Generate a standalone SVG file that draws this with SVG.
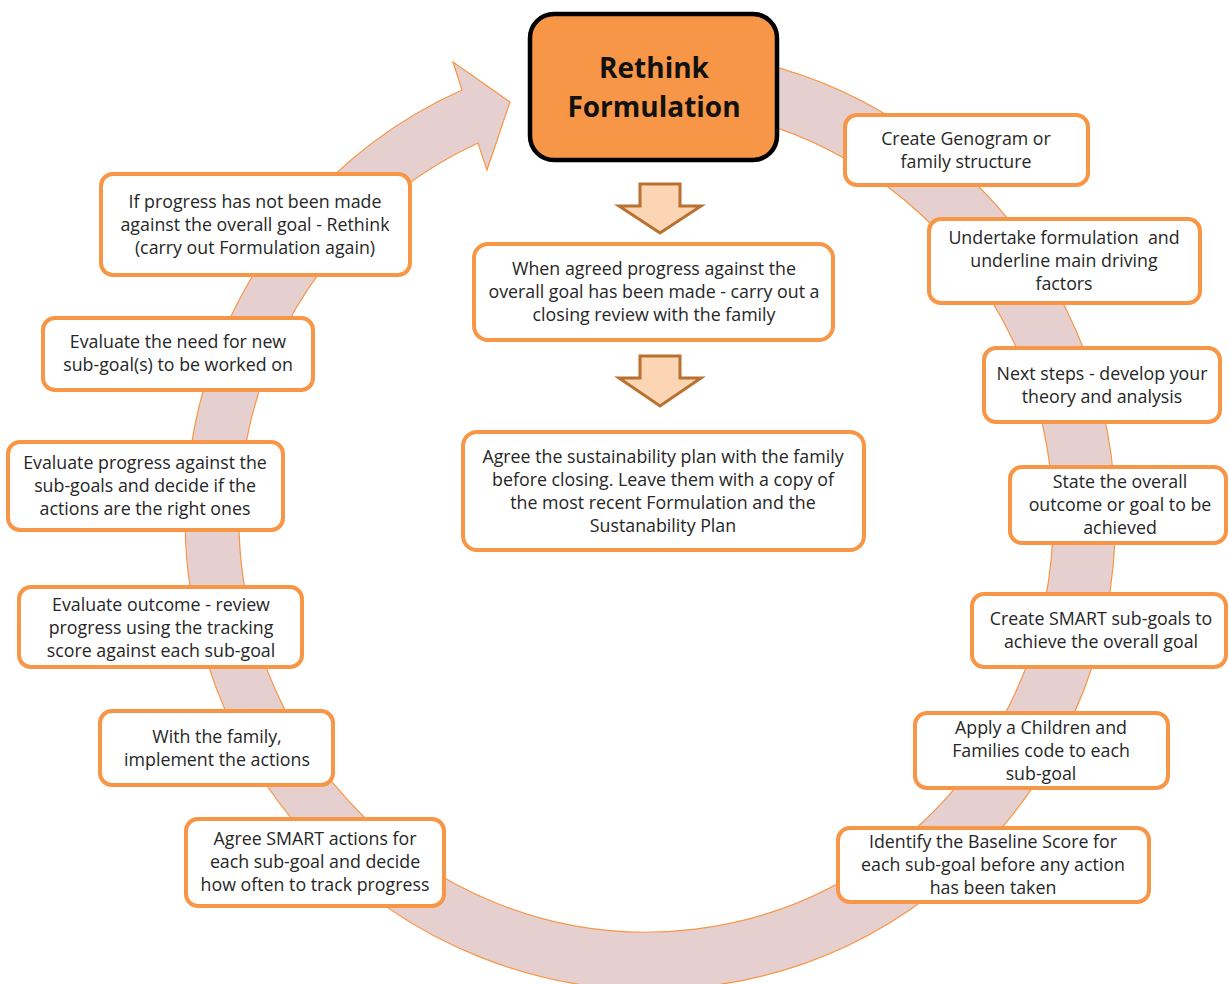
<svg xmlns="http://www.w3.org/2000/svg" width="1229" height="984" viewBox="0 0 1229 984">
<style>
.box{fill:#fff;stroke:#F79646;stroke-width:4}
.t{font-family:"Open Sans","Liberation Sans",sans-serif;font-size:17.8px;fill:#262626;text-anchor:middle}
.tb{font-family:"Open Sans","Liberation Sans",sans-serif;font-size:28px;font-weight:bold;fill:#111;text-anchor:middle}
.dn{fill:#FCD5B4;stroke:#B8712F;stroke-width:3;stroke-linejoin:miter}
</style>
<rect width="1229" height="984" fill="#fff"/>
<g id="connectors">
<path id="cycle-arrow" d="M462,90 A465,470 0 1 0 720,55 L720,113 A407,413 0 1 1 478,143 L487,170 L510,102 L453,62 Z" fill="#E6CFCF" stroke="#F79646" stroke-width="1.2"/>
<path class="dn" d="M640,184 L680,184 L680,206 L701,206 L660,233 L619,206 L640,206 Z"/>
<path class="dn" d="M640,356 L680,356 L680,378 L701,378 L660,406 L619,378 L640,378 Z"/>
</g>
<g id="rethink">
<rect x="530" y="14" width="247" height="146" rx="24" fill="#F79646" stroke="#000" stroke-width="4.5"/>
<text class="tb" x="654" y="78">Rethink</text>
<text class="tb" x="654" y="117">Formulation</text>
</g>
<g id="n1"><rect class="box" x="845" y="115" width="243" height="70" rx="12"/>
<text class="t" x="966"><tspan x="966" y="144.5">Create Genogram or</tspan><tspan x="966" y="167.5">family structure</tspan></text></g>
<g id="n2"><rect class="box" x="929" y="219" width="271" height="84" rx="12"/>
<text class="t" xml:space="preserve"><tspan x="1064" y="244">Undertake formulation  and</tspan><tspan x="1064" y="267">underline main driving</tspan><tspan x="1064" y="290">factors</tspan></text></g>
<g id="n3"><rect class="box" x="984" y="348" width="236" height="74" rx="12"/>
<text class="t"><tspan x="1102" y="379.5">Next steps - develop your</tspan><tspan x="1102" y="402.5">theory and analysis</tspan></text></g>
<g id="n4"><rect class="box" x="1010" y="467" width="216" height="76" rx="12"/>
<text class="t"><tspan x="1120" y="488">State the overall</tspan><tspan x="1120" y="511">outcome or goal to be</tspan><tspan x="1120" y="534">achieved</tspan></text></g>
<g id="n5"><rect class="box" x="972" y="594" width="254" height="73" rx="12"/>
<text class="t"><tspan x="1101" y="625">Create SMART sub-goals to</tspan><tspan x="1101" y="648">achieve the overall goal</tspan></text></g>
<g id="n6"><rect class="box" x="915" y="713" width="253" height="75" rx="12"/>
<text class="t"><tspan x="1041" y="734">Apply a Children and</tspan><tspan x="1041" y="757">Families code to each</tspan><tspan x="1041" y="780">sub-goal</tspan></text></g>
<g id="n7"><rect class="box" x="838" y="828" width="311" height="74" rx="12"/>
<text class="t"><tspan x="993" y="848">Identify the Baseline Score for</tspan><tspan x="993" y="871">each sub-goal before any action</tspan><tspan x="993" y="894">has been taken</tspan></text></g>
<g id="n8"><rect class="box" x="186" y="819" width="258" height="87" rx="12"/>
<text class="t"><tspan x="315" y="845">Agree SMART actions for</tspan><tspan x="315" y="868">each sub-goal and decide</tspan><tspan x="315" y="891">how often to track progress</tspan></text></g>
<g id="n9"><rect class="box" x="100" y="711" width="233" height="74" rx="12"/>
<text class="t"><tspan x="217" y="742.5">With the family,</tspan><tspan x="217" y="765.5">implement the actions</tspan></text></g>
<g id="n10"><rect class="box" x="19" y="587" width="283" height="80" rx="12"/>
<text class="t"><tspan x="161" y="611">Evaluate outcome - review</tspan><tspan x="161" y="634">progress using the tracking</tspan><tspan x="161" y="657">score against each sub-goal</tspan></text></g>
<g id="n11"><rect class="box" x="8" y="442" width="275" height="88" rx="12"/>
<text class="t"><tspan x="145" y="469">Evaluate progress against the</tspan><tspan x="145" y="492">sub-goals and decide if the</tspan><tspan x="145" y="515">actions are the right ones</tspan></text></g>
<g id="n12"><rect class="box" x="43" y="318" width="270" height="72" rx="12"/>
<text class="t"><tspan x="178" y="348">Evaluate the need for new</tspan><tspan x="178" y="371">sub-goal(s) to be worked on</tspan></text></g>
<g id="n13"><rect class="box" x="101" y="174" width="309" height="101" rx="12"/>
<text class="t"><tspan x="255" y="207.5">If progress has not been made</tspan><tspan x="255" y="230.5">against the overall goal - Rethink</tspan><tspan x="255" y="253.5">(carry out Formulation again)</tspan></text></g>
<g id="n14"><rect class="box" x="474" y="244" width="359" height="96" rx="14"/>
<text class="t"><tspan x="654" y="275">When agreed progress against the</tspan><tspan x="654" y="298">overall goal has been made - carry out a</tspan><tspan x="654" y="321">closing review with the family</tspan></text></g>
<g id="n15"><rect class="box" x="463" y="432" width="401" height="118" rx="14"/>
<text class="t"><tspan x="663" y="462.5">Agree the sustainability plan with the family</tspan><tspan x="663" y="485.5">before closing. Leave them with a copy of</tspan><tspan x="663" y="508.5">the most recent Formulation and the</tspan><tspan x="663" y="531.5">Sustanability Plan</tspan></text></g>
</svg>
